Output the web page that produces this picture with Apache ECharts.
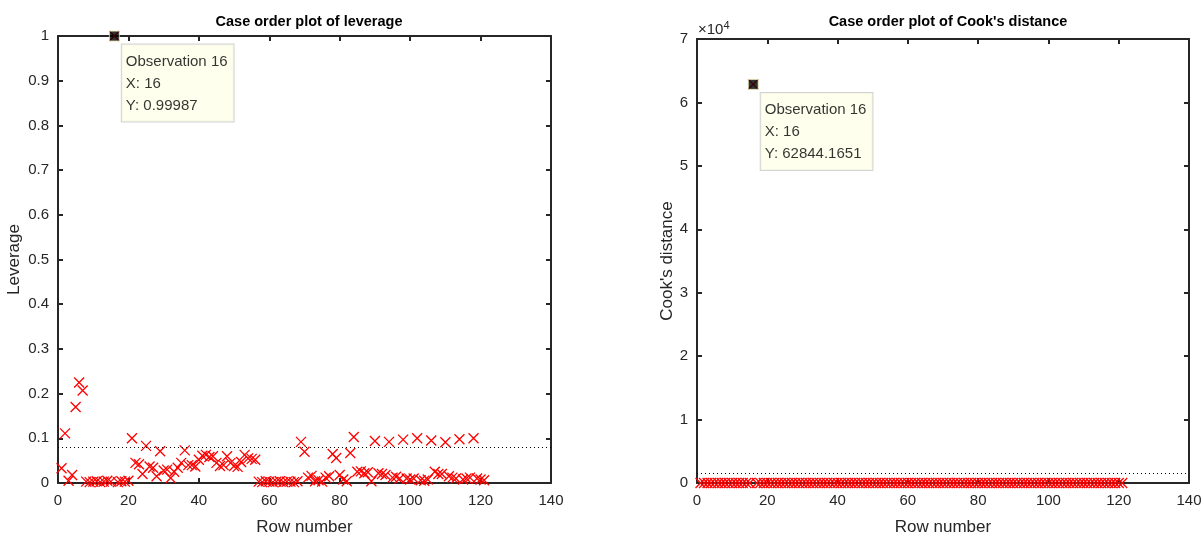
<!DOCTYPE html>
<html>
<head>
<meta charset="utf-8">
<script src="https://cdn.jsdelivr.net/npm/echarts@6/dist/echarts.min.js"></script>
<style>
  html, body { margin: 0; padding: 0; background: #ffffff; }
  #chart { width: 1203px; height: 536px; }
</style>
</head>
<body>
<div id="chart"></div>
<script>
// Leverage of each observation (rows 1..121)
const leverage = [
  0.033, 0.111, 0.005, 0.018, 0.170, 0.225, 0.207, 0.003, 0.002, 0.003,
  0.004, 0.002, 0.003, 0.005, 0.003, 0.99987, 0.002, 0.004, 0.003, 0.005,
  0.100, 0.045, 0.042, 0.020, 0.083, 0.037, 0.034, 0.015, 0.071, 0.028,
  0.030, 0.011, 0.025, 0.034, 0.045, 0.073, 0.040, 0.040, 0.037, 0.052,
  0.061, 0.063, 0.058, 0.060, 0.045, 0.038, 0.040, 0.060, 0.045, 0.038,
  0.036, 0.047, 0.063, 0.055, 0.054, 0.052, 0.003, 0.002, 0.004, 0.003,
  0.002, 0.003, 0.004, 0.002, 0.003, 0.003, 0.002, 0.004, 0.092, 0.070,
  0.012, 0.016, 0.004, 0.006, 0.003, 0.012, 0.015, 0.065, 0.056, 0.018,
  0.008, 0.004, 0.067, 0.103, 0.025, 0.026, 0.022, 0.024, 0.004, 0.094,
  0.022, 0.020, 0.018, 0.092, 0.012, 0.014, 0.010, 0.097, 0.010, 0.008,
  0.010, 0.100, 0.006, 0.005, 0.008, 0.095, 0.025, 0.020, 0.020, 0.091,
  0.015, 0.012, 0.010, 0.098, 0.008, 0.010, 0.012, 0.100, 0.010, 0.008,
  0.006
];

// Cook's distance of each observation (rows 1..121)
const cooksDistance = [
  0.41, 2.85, 0.02, 0.12, 6.30, 9.74, 8.12, 0.01, 0.00, 0.01,
  0.02, 0.00, 0.01, 0.03, 0.01, 62844.1651, 0.00, 0.02, 0.01, 0.02,
  1.95, 0.38, 0.33, 0.08, 1.02, 0.27, 0.22, 0.05, 0.74, 0.15,
  0.17, 0.03, 0.12, 0.21, 0.36, 0.88, 0.25, 0.29, 0.23, 0.44,
  0.61, 0.66, 0.55, 0.58, 0.35, 0.26, 0.28, 0.57, 0.33, 0.24,
  0.22, 0.37, 0.64, 0.49, 0.47, 0.45, 0.01, 0.00, 0.02, 0.01,
  0.00, 0.01, 0.02, 0.00, 0.01, 0.01, 0.00, 0.02, 1.21, 0.69,
  0.06, 0.09, 0.01, 0.02, 0.01, 0.06, 0.08, 0.72, 0.53, 0.11,
  0.03, 0.01, 0.75, 1.66, 0.16, 0.17, 0.13, 0.15, 0.01, 1.37,
  0.13, 0.11, 0.10, 1.25, 0.06, 0.07, 0.04, 1.44, 0.04, 0.03,
  0.04, 1.52, 0.02, 0.02, 0.03, 1.40, 0.16, 0.11, 0.11, 1.19,
  0.07, 0.06, 0.04, 1.48, 0.03, 0.04, 0.06, 1.55, 0.04, 0.03,
  0.02
];

// Axis ticks
const rowTicks = [0, 20, 40, 60, 80, 100, 120, 140];
const leverageTicks = [0, 0.1, 0.2, 0.3, 0.4, 0.5, 0.6, 0.7, 0.8, 0.9, 1];
const cookTicks = [0, 10000, 20000, 30000, 40000, 50000, 60000, 70000];

// Dotted cut-off lines
const leverageCutoff = 0.0826;
const cookCutoff = 1558;

// Highlighted observation
const selectedRow = 16;

const FONT = '"Liberation Sans", Arial, Helvetica, sans-serif';
const AXIS_COLOR = '#262626';
const CROSS = 'path://M0,0L10,10M10,0L0,10';

const chart = echarts.init(document.getElementById('chart'), null, { renderer: 'canvas' });

const rows = leverage.map((_, i) => i + 1);

function xAxes(gridIndex) {
  const base = {
    gridIndex,
    type: 'value',
    min: rowTicks[0],
    max: rowTicks[rowTicks.length - 1],
    interval: rowTicks[1] - rowTicks[0],
    splitLine: { show: false },
    axisLine: { show: true, onZero: false, lineStyle: { color: AXIS_COLOR, width: 2 } },
    axisTick: { show: true, inside: true, length: 5, lineStyle: { color: AXIS_COLOR, width: 2 } }
  };
  return [
    Object.assign({}, base, {
      position: 'bottom',
      name: 'Row number',
      nameLocation: 'middle',
      nameGap: 36,
      nameTextStyle: { fontFamily: FONT, fontSize: 17, color: AXIS_COLOR },
      axisLabel: { show: true, margin: 10, fontFamily: FONT, fontSize: 15, color: AXIS_COLOR }
    }),
    Object.assign({}, base, { position: 'top', axisLabel: { show: false } })
  ];
}

function yAxes(gridIndex, ticks, name, nameGap, formatter) {
  const base = {
    gridIndex,
    type: 'value',
    min: ticks[0],
    max: ticks[ticks.length - 1],
    interval: ticks[1] - ticks[0],
    splitLine: { show: false },
    axisLine: { show: true, onZero: false, lineStyle: { color: AXIS_COLOR, width: 2 } },
    axisTick: { show: true, inside: true, length: 5, lineStyle: { color: AXIS_COLOR, width: 2 } }
  };
  return [
    Object.assign({}, base, {
      position: 'left',
      name,
      nameLocation: 'middle',
      nameGap,
      nameTextStyle: { fontFamily: FONT, fontSize: 17, color: AXIS_COLOR },
      axisLabel: { show: true, margin: 9, fontFamily: FONT, fontSize: 15, color: AXIS_COLOR, formatter }
    }),
    Object.assign({}, base, { position: 'right', axisLabel: { show: false } })
  ];
}

function crossSeries(gridIndex, values, cutoff) {
  return {
    type: 'scatter',
    xAxisIndex: gridIndex * 2,
    yAxisIndex: gridIndex * 2,
    symbol: CROSS,
    symbolSize: 10,
    itemStyle: { color: 'rgba(255,0,0,0)', borderColor: '#ff0000', borderWidth: 1.3, opacity: 1 },
    emphasis: { disabled: true },
    data: values.map((v, i) => [rows[i], v]),
    markLine: {
      silent: true,
      symbol: 'none',
      label: { show: false },
      lineStyle: { color: '#000000', type: [1, 3], width: 1 },
      data: [{ yAxis: cutoff }]
    },
    z: 3
  };
}

function tipSeries(gridIndex, values, digits) {
  const y = values[selectedRow - 1];
  return {
    type: 'scatter',
    xAxisIndex: gridIndex * 2,
    yAxisIndex: gridIndex * 2,
    symbol: 'rect',
    symbolSize: 10,
    itemStyle: { color: '#000000', borderColor: '#f2f2c0', borderWidth: 1 },
    emphasis: { disabled: true },
    data: [[selectedRow, y]],
    label: {
      show: true,
      position: [13, 14],
      align: 'left',
      verticalAlign: 'top',
      formatter: () => 'Observation ' + selectedRow + '\nX: ' + selectedRow + '\nY: ' + y.toFixed(digits),
      fontFamily: FONT,
      fontSize: 15,
      lineHeight: 22,
      color: '#000000',
      backgroundColor: '#ffffea',
      borderColor: '#c8c8c8',
      borderWidth: 1,
      padding: [6, 6, 5, 4]
    },
    z: 10
  };
}

const option = {
  animation: false,
  backgroundColor: '#ffffff',
  title: [
    {
      text: 'Case order plot of leverage',
      left: 304, top: 9, textAlign: 'center',
      textStyle: { fontFamily: FONT, fontSize: 14.5, fontWeight: 'bold', color: '#000000' }
    },
    {
      text: "Case order plot of Cook's distance",
      left: 943, top: 9, textAlign: 'center',
      textStyle: { fontFamily: FONT, fontSize: 14.5, fontWeight: 'bold', color: '#000000' }
    },
    {
      text: '×10{sup|4}',
      left: 693, top: 15,
      textStyle: {
        fontFamily: FONT, fontSize: 15, fontWeight: 'normal', color: AXIS_COLOR,
        rich: { sup: { fontFamily: FONT, fontSize: 11, color: AXIS_COLOR, verticalAlign: 'top', padding: [0, 0, 8, 0] } }
      }
    }
  ],
  grid: [
    { left: 58, top: 36, width: 493, height: 447, outerBoundsMode: 'none', containLabel: false },
    { left: 697, top: 39, width: 492, height: 444, outerBoundsMode: 'none', containLabel: false }
  ],
  xAxis: [...xAxes(0), ...xAxes(1)],
  yAxis: [
    ...yAxes(0, leverageTicks, 'Leverage', 35, v => String(+v.toFixed(1))),
    ...yAxes(1, cookTicks, "Cook's distance", 21, v => String(v / 10000))
  ],
  series: [
    crossSeries(0, leverage, leverageCutoff),
    tipSeries(0, leverage, 5),
    crossSeries(1, cooksDistance, cookCutoff),
    tipSeries(1, cooksDistance, 4)
  ]
};

chart.setOption(option);
</script>
</body>
</html>
